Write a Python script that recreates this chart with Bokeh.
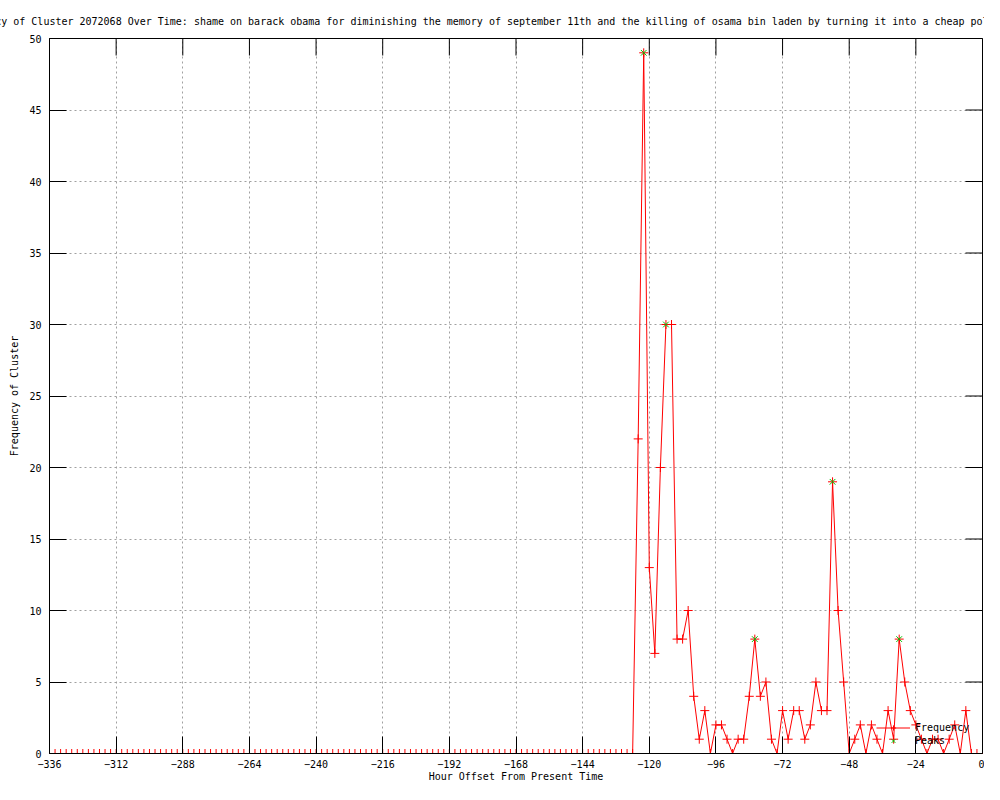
import math
from bokeh.plotting import figure
from bokeh.models import Range1d, FixedTicker, Legend, LegendItem
from bokeh.embed import file_html
from bokeh.resources import INLINE

# ---- data ----
title_text = ("Frequency of Cluster 2072068 Over Time: shame on barack obama for diminishing "
              "the memory of september 11th and the killing of osama bin laden by turning it "
              "into a cheap political football")
x_label = "Hour Offset From Present Time"
y_label = "Frequency of Cluster"

hours = list(range(-336, 1, 2))
frequency = [0] * 106 + [
    22, 49, 13, 7, 20, 30, 30, 8, 8, 10,
    4, 1, 3, 0, 2, 2, 1, 0, 1, 1,
    4, 8, 4, 5, 1, 0, 3, 1, 3, 3,
    1, 2, 5, 3, 3, 19, 10, 5, 0, 1,
    2, 0, 2, 1, 0, 3, 1, 8, 5, 3,
    2, 1, 0, 1, 1, 0, 1, 2, 0, 3,
    0, 0, 0,
]
peak_hours = [-122, -114, -82, -54, -30]
peak_values = [49, 30, 8, 19, 8]

x_ticks = [-336, -312, -288, -264, -240, -216, -192, -168, -144, -120, -96, -72, -48, -24, 0]
y_ticks = [0, 5, 10, 15, 20, 25, 30, 35, 40, 45, 50]
x_min, x_max = -336, 0
y_min, y_max = 0, 50

FONT = "DejaVu Sans Mono"
FS = "10px"

p = figure(width=984, height=784, output_backend="svg", toolbar_location=None,
           x_range=Range1d(x_min, x_max), y_range=Range1d(y_min, y_max),
           min_border_left=49, min_border_right=2, min_border_top=38, min_border_bottom=28,
           background_fill_color="white", border_fill_color="white")

p.title.text = title_text
p.title.align = "center"
p.title.text_font = FONT
p.title.text_font_size = FS
p.title.text_font_style = "normal"
p.title.text_color = "black"
p.title.standoff = 23

p.outline_line_color = "black"
p.outline_line_width = 1

def style_axis(ax, ticks):
    ax.ticker = FixedTicker(ticks=ticks)
    ax.major_tick_in = 17
    ax.major_tick_out = 0
    ax.minor_tick_line_color = None
    ax.major_tick_line_color = "black"
    ax.axis_line_color = "black"
    ax.major_label_text_font = FONT
    ax.major_label_text_font_size = FS
    ax.major_label_text_color = "black"
    ax.axis_label_text_font = FONT
    ax.axis_label_text_font_size = FS
    ax.axis_label_text_font_style = "normal"
    ax.axis_label_text_color = "black"

xa = p.xaxis[0]
ya = p.yaxis[0]
xa.axis_label = x_label
ya.axis_label = y_label
style_axis(xa, x_ticks)
style_axis(ya, y_ticks)
xa.major_label_standoff = 6
xa.axis_label_standoff = 0
ya.major_label_standoff = 8
ya.axis_label_standoff = 6

for g, t in ((p.xgrid[0], x_ticks), (p.ygrid[0], y_ticks)):
    g.ticker = FixedTicker(ticks=t)
    g.grid_line_color = "#a0a0a0"
    g.grid_line_dash = "2 3"
    g.grid_line_width = 1

# mirrored tick marks on the top and right border (half of each dash is clipped by the frame)
p.scatter(x_ticks, [y_max] * len(x_ticks), marker="dash", angle=math.pi / 2, size=34,
          line_color="black", line_width=1)
p.scatter([x_max] * len(y_ticks), y_ticks, marker="dash", size=34,
          line_color="black", line_width=1)

l1 = p.line(hours, frequency, line_color="#ff0000", line_width=1)
m1 = p.scatter(hours, frequency, marker="cross", size=9, line_color="#ff0000", line_width=1)
m2 = p.scatter(peak_hours, peak_values, marker="x", size=8, line_color="#00c000", line_width=1)

legend = Legend(items=[LegendItem(label="Frequency", renderers=[l1, m1]),
                       LegendItem(label="Peaks", renderers=[m2])],
                location=(827, 6), orientation="vertical",
                background_fill_alpha=0, border_line_color=None,
                label_text_font=FONT, label_text_font_size=FS, label_text_color="black",
                glyph_width=34, glyph_height=13, label_height=13, label_standoff=5,
                spacing=0, padding=0, margin=0)
p.add_layout(legend, "center")

open("out.html", "w").write(file_html(p, INLINE))
